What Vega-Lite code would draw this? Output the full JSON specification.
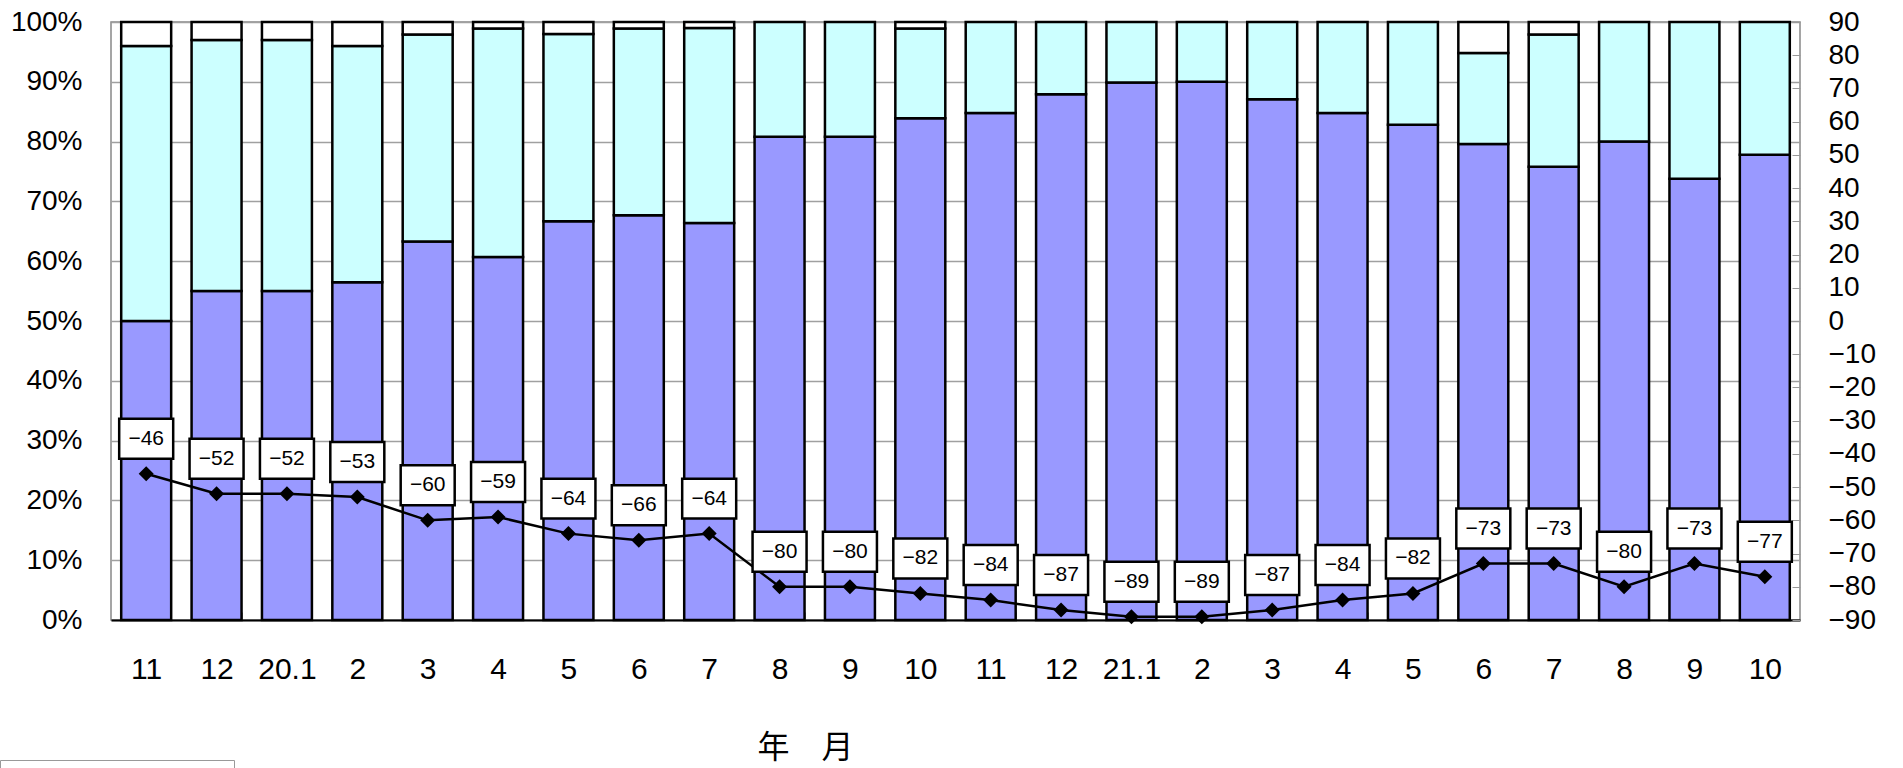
{
  "$schema": "https://vega.github.io/schema/vega-lite/v6.json",
  "width": 1689,
  "height": 598,
  "autosize": {"type": "none"},
  "padding": {"left": 111, "top": 22, "right": 103, "bottom": 148},
  "background": "white",
  "config": {
    "font": "Liberation Sans",
    "view": {"stroke": "#888888", "strokeWidth": 1.5}
  },
  "datasets": {
    "bars": [
      {"month": "19.11", "cat": "減少", "pct": 50.0},
      {"month": "19.11", "cat": "横ばい", "pct": 46.0},
      {"month": "19.11", "cat": "増加", "pct": 4.0},
      {"month": "19.12", "cat": "減少", "pct": 55.0},
      {"month": "19.12", "cat": "横ばい", "pct": 42.0},
      {"month": "19.12", "cat": "増加", "pct": 3.0},
      {"month": "20.1", "cat": "減少", "pct": 55.0},
      {"month": "20.1", "cat": "横ばい", "pct": 42.0},
      {"month": "20.1", "cat": "増加", "pct": 3.0},
      {"month": "20.2", "cat": "減少", "pct": 56.5},
      {"month": "20.2", "cat": "横ばい", "pct": 39.5},
      {"month": "20.2", "cat": "増加", "pct": 4.0},
      {"month": "20.3", "cat": "減少", "pct": 63.3},
      {"month": "20.3", "cat": "横ばい", "pct": 34.6},
      {"month": "20.3", "cat": "増加", "pct": 2.1},
      {"month": "20.4", "cat": "減少", "pct": 60.7},
      {"month": "20.4", "cat": "横ばい", "pct": 38.2},
      {"month": "20.4", "cat": "増加", "pct": 1.1},
      {"month": "20.5", "cat": "減少", "pct": 66.7},
      {"month": "20.5", "cat": "横ばい", "pct": 31.3},
      {"month": "20.5", "cat": "増加", "pct": 2.0},
      {"month": "20.6", "cat": "減少", "pct": 67.7},
      {"month": "20.6", "cat": "横ばい", "pct": 31.2},
      {"month": "20.6", "cat": "増加", "pct": 1.1},
      {"month": "20.7", "cat": "減少", "pct": 66.4},
      {"month": "20.7", "cat": "横ばい", "pct": 32.6},
      {"month": "20.7", "cat": "増加", "pct": 1.0},
      {"month": "20.8", "cat": "減少", "pct": 80.8},
      {"month": "20.8", "cat": "横ばい", "pct": 19.2},
      {"month": "20.9", "cat": "減少", "pct": 80.8},
      {"month": "20.9", "cat": "横ばい", "pct": 19.2},
      {"month": "20.10", "cat": "減少", "pct": 83.9},
      {"month": "20.10", "cat": "横ばい", "pct": 15.0},
      {"month": "20.10", "cat": "増加", "pct": 1.1},
      {"month": "20.11", "cat": "減少", "pct": 84.8},
      {"month": "20.11", "cat": "横ばい", "pct": 15.2},
      {"month": "20.12", "cat": "減少", "pct": 87.9},
      {"month": "20.12", "cat": "横ばい", "pct": 12.1},
      {"month": "21.1", "cat": "減少", "pct": 89.9},
      {"month": "21.1", "cat": "横ばい", "pct": 10.1},
      {"month": "21.2", "cat": "減少", "pct": 90.0},
      {"month": "21.2", "cat": "横ばい", "pct": 10.0},
      {"month": "21.3", "cat": "減少", "pct": 87.1},
      {"month": "21.3", "cat": "横ばい", "pct": 12.9},
      {"month": "21.4", "cat": "減少", "pct": 84.8},
      {"month": "21.4", "cat": "横ばい", "pct": 15.2},
      {"month": "21.5", "cat": "減少", "pct": 82.8},
      {"month": "21.5", "cat": "横ばい", "pct": 17.2},
      {"month": "21.6", "cat": "減少", "pct": 79.6},
      {"month": "21.6", "cat": "横ばい", "pct": 15.2},
      {"month": "21.6", "cat": "増加", "pct": 5.2},
      {"month": "21.7", "cat": "減少", "pct": 75.8},
      {"month": "21.7", "cat": "横ばい", "pct": 22.1},
      {"month": "21.7", "cat": "増加", "pct": 2.1},
      {"month": "21.8", "cat": "減少", "pct": 80.0},
      {"month": "21.8", "cat": "横ばい", "pct": 20.0},
      {"month": "21.9", "cat": "減少", "pct": 73.8},
      {"month": "21.9", "cat": "横ばい", "pct": 26.2},
      {"month": "21.10", "cat": "減少", "pct": 77.8},
      {"month": "21.10", "cat": "横ばい", "pct": 22.2}
    ],
    "di": [
      {"month": "19.11", "di": -46},
      {"month": "19.12", "di": -52},
      {"month": "20.1", "di": -52},
      {"month": "20.2", "di": -53},
      {"month": "20.3", "di": -60},
      {"month": "20.4", "di": -59},
      {"month": "20.5", "di": -64},
      {"month": "20.6", "di": -66},
      {"month": "20.7", "di": -64},
      {"month": "20.8", "di": -80},
      {"month": "20.9", "di": -80},
      {"month": "20.10", "di": -82},
      {"month": "20.11", "di": -84},
      {"month": "20.12", "di": -87},
      {"month": "21.1", "di": -89},
      {"month": "21.2", "di": -89},
      {"month": "21.3", "di": -87},
      {"month": "21.4", "di": -84},
      {"month": "21.5", "di": -82},
      {"month": "21.6", "di": -73},
      {"month": "21.7", "di": -73},
      {"month": "21.8", "di": -80},
      {"month": "21.9", "di": -73},
      {"month": "21.10", "di": -77}
    ]
  },
  "encoding": {
    "x": {
      "field": "month",
      "type": "nominal",
      "scale": {
        "domain": ["19.11","19.12","20.1","20.2","20.3","20.4","20.5","20.6","20.7","20.8","20.9","20.10","20.11","20.12","21.1","21.2","21.3","21.4","21.5","21.6","21.7","21.8","21.9","21.10"],
        "paddingInner": 0.29,
        "paddingOuter": 0.145
      },
      "axis": {
        "title": "年　月",
        "titleFont": "Noto Sans CJK JP",
        "titleFontSize": 32,
        "titleFontWeight": "normal",
        "titleColor": "black",
        "titleX": 694,
        "titleY": 127,
        "titleAlign": "center",
        "titleBaseline": "middle",
        "labelAngle": 0,
        "labelFontSize": 30,
        "labelColor": "black",
        "labelPadding": 42,
        "labelExpr": "datum.value == '20.1' || datum.value == '21.1' ? datum.value : split(datum.value, '.')[1]",
        "domainColor": "black",
        "domainWidth": 2,
        "ticks": true,
        "tickBand": "extent",
        "tickSize": -8,
        "tickColor": "#999999",
        "tickWidth": 1
      }
    }
  },
  "layer": [
    {
      "data": {"name": "bars"},
      "mark": {"type": "bar", "stroke": "black", "strokeWidth": 2.5},
      "encoding": {
        "y": {
          "field": "pct",
          "type": "quantitative",
          "stack": "zero",
          "scale": {"domain": [0, 100], "nice": false},
          "axis": {
            "title": null,
            "values": [0,10,20,30,40,50,60,70,80,90,100],
            "labelExpr": "datum.value + '%'",
            "labelFontSize": 28,
            "labelColor": "black",
            "labelPadding": 29,
            "grid": true,
            "gridColor": "#a0a0a0",
            "gridWidth": 1.5,
            "domain": false,
            "ticks": false
          }
        },
        "color": {
          "field": "cat",
          "type": "nominal",
          "scale": {"domain": ["減少", "横ばい", "増加"], "range": ["#9999FF", "#CCFFFF", "#FFFFFF"]},
          "legend": {
            "orient": "none",
            "legendX": -111,
            "legendY": 738,
            "direction": "horizontal",
            "title": null,
            "strokeColor": "#999999",
            "padding": 10,
            "labelExpr": "''",
            "labelOffset": 4,
            "columnPadding": 66,
            "symbolSize": 400,
            "symbolType": "square",
            "symbolStrokeColor": "black"
          }
        }
      }
    },
    {
      "data": {"name": "di"},
      "encoding": {
        "y": {
          "field": "di",
          "type": "quantitative",
          "scale": {"domain": [-90, 90], "nice": false},
          "axis": {
            "orient": "right",
            "title": null,
            "values": [-90,-80,-70,-60,-50,-40,-30,-20,-10,0,10,20,30,40,50,60,70,80,90],
            "labelFontSize": 28,
            "labelColor": "black",
            "labelPadding": 36,
            "grid": false,
            "domain": false,
            "ticks": true,
            "tickSize": -8,
            "tickColor": "#999999",
            "tickWidth": 1
          }
        }
      },
      "layer": [
        {"mark": {"type": "line", "color": "black", "strokeWidth": 2.5}},
        {"mark": {"type": "point", "shape": "diamond", "filled": true, "color": "black", "size": 225, "opacity": 1}},
        {"mark": {"type": "point", "shape": "M-1,-0.74L1,-0.74L1,0.74L-1,0.74Z", "size": 2916, "filled": true, "fill": "white", "stroke": "black", "strokeWidth": 2.5, "opacity": 1, "yOffset": -35}},
        {"mark": {"type": "text", "fontSize": 21, "color": "black", "baseline": "middle", "yOffset": -35}, "encoding": {"text": {"field": "di", "type": "quantitative", "format": "d"}}}
      ]
    }
  ],
  "resolve": {"scale": {"y": "independent"}}
}
